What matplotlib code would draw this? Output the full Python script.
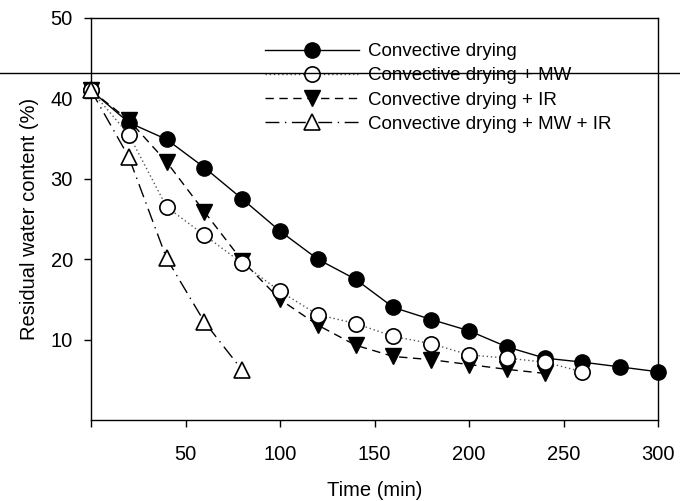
import matplotlib
matplotlib.use("Agg")
import matplotlib.pyplot as plt
from matplotlib.lines import Line2D

plt.rcParams['font.family'] = ['Liberation Sans', 'DejaVu Sans']

# drying time (min)
t_conv = [0, 20, 40, 60, 80, 100, 120, 140, 160, 180, 200, 220, 240, 260, 280, 300]
t_mw = [0, 20, 40, 60, 80, 100, 120, 140, 160, 180, 200, 220, 240, 260]
t_ir = [0, 20, 40, 60, 80, 100, 120, 140, 160, 180, 200, 220, 240]
t_mwir = [0, 20, 40, 60, 80]

# residual water content (%)
conv = [41.0, 37.0, 34.9, 31.4, 27.5, 23.5, 20.0, 17.5, 14.0, 12.5, 11.1, 9.1, 7.7, 7.2, 6.6, 6.0]
conv_mw = [41.0, 35.5, 26.5, 23.0, 19.5, 16.0, 13.1, 12.0, 10.4, 9.5, 8.1, 7.7, 7.2, 6.0]
conv_ir = [41.0, 37.3, 32.1, 25.9, 19.8, 15.0, 11.8, 9.3, 7.9, 7.5, 6.9, 6.3, 5.8]
conv_mw_ir = [41.0, 32.7, 20.1, 12.2, 6.2]

labels = ['Convective drying', 'Convective drying + MW',
          'Convective drying + IR', 'Convective drying + MW + IR']

fig = plt.figure(figsize=(6.8, 5.01), dpi=100)
ax = fig.add_axes([91 / 680, 1 - 420 / 501, (658 - 91) / 680, (420 - 18) / 501])

ms = 11
ax.plot(t_conv, conv, color='black', lw=1, ls='-', marker='o', ms=ms,
        mfc='black', mec='black', label=labels[0], clip_on=False, zorder=3)
ax.plot(t_mw, conv_mw, color='#555555', lw=1, ls=(0, (1, 2)), marker='o', ms=ms,
        mfc='white', mec='black', mew=1.2, label=labels[1], clip_on=False, zorder=4)
ax.plot(t_ir, conv_ir, color='black', lw=1, ls=(0, (6, 4)), marker='v', ms=ms,
        mfc='black', mec='black', label=labels[2], clip_on=False, zorder=3)
ax.plot(t_mwir, conv_mw_ir, color='black', lw=1, ls=(0, (10, 4, 1, 4)), marker='^', ms=ms,
        mfc='white', mec='black', mew=1.2, label=labels[3], clip_on=False, zorder=5)

ax.set_xlim(0, 300)
ax.set_ylim(0, 50)
ax.set_xticks([0, 50, 100, 150, 200, 250, 300])
ax.set_xticklabels(['', '50', '100', '150', '200', '250', '300'])
ax.set_yticks([10, 20, 30, 40, 50])
ax.tick_params(direction='out', length=5, width=1, labelsize=14.5, pad=8)
ax.tick_params(axis='x', pad=13)
for s in ax.spines.values():
    s.set_linewidth(1)

ax.set_xlabel('Time (min)', fontsize=14.5, labelpad=12)
ax.set_ylabel('Residual water content (%)', fontsize=14.5, labelpad=8)

leg = ax.legend(loc='upper left', bbox_to_anchor=(265 / 680, 1 - 43 / 501),
                bbox_transform=fig.transFigure, frameon=False, fontsize=13.5,
                handlelength=5.0, handletextpad=0.5, labelspacing=0.38,
                borderpad=0, borderaxespad=0)

# scan artefact: thin rule across the whole page
fig.add_artist(Line2D([0, 1], [1 - 73 / 501, 1 - 73 / 501], transform=fig.transFigure,
                      color='black', lw=1, zorder=10))

fig.savefig('out.png', dpi=100)
